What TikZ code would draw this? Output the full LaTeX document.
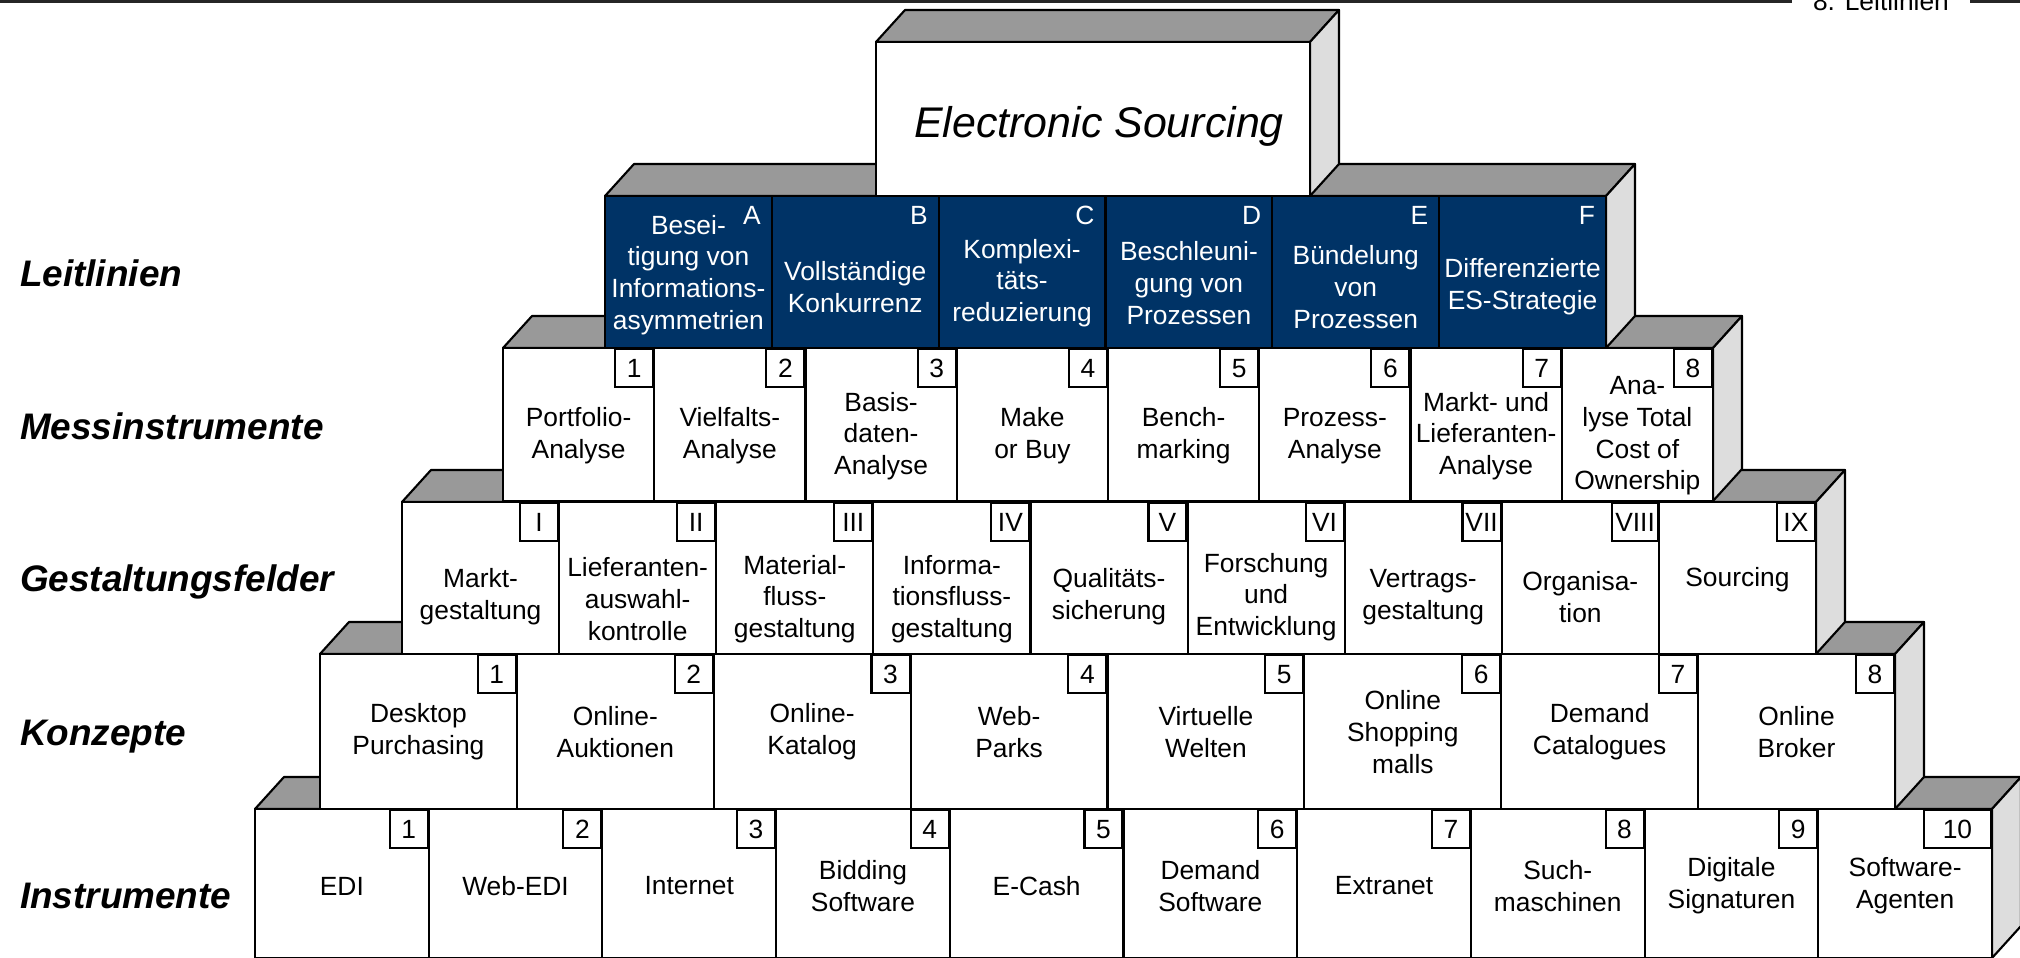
\documentclass[tikz,border=0pt]{standalone}
\usepackage{fontspec}
\setmainfont{Liberation Sans}
\definecolor{esblue}{RGB}{0,51,102}
\definecolor{topgray}{RGB}{153,153,153}
\definecolor{sidegray}{RGB}{221,221,221}

\newcommand{\stufe}[4]{%
  \draw[topface] (#1,#2) -- ++(29,-32) -- (#3+29,#2-32) -- (#3,#2) -- cycle;
  \draw[sideface] (#3,#2) -- ++(29,-32) -- (#3+29,#4-32) -- (#3,#4) -- cycle;
  \draw[frontface] (#1,#2) rectangle (#3,#4);}

\begin{document}
\begin{tikzpicture}
  [x=0.01cm,y=-0.01cm,line width=0.6pt,
   every node/.style={font=\fontsize{7.5}{9}\selectfont,align=center,inner sep=0pt},
   topface/.style={draw,fill=topgray,line join=round},
   sideface/.style={draw,fill=sidegray,line join=round},
   frontface/.style={draw,fill=white},
   numbox/.style={draw,fill=white,anchor=north east,minimum width=0.38cm,minimum height=0.38cm,inner xsep=0.03cm},
   level/.style={font=\fontsize{10.5}{12}\selectfont\bfseries\itshape,anchor=base west}]
  \useasboundingbox (0,0) rectangle (2020,958);
  \clip (0,0) rectangle (2020,958);

  \node[anchor=base west] (kapitel) at (1812,11) {8. Leitlinien};
  \draw[line width=0.8pt,black!85] (0,1.3) -- ([xshift=-0.2cm]kapitel.west |- 0,1.3)
    ([xshift=0.2cm]kapitel.east |- 0,1.3) -- (2020,1.3);

  \node[level] (l1) at (19,287) {Leitlinien};
  \node[level] (l2) at (19,440) {Messinstrumente};
  \node[level] (l3) at (19,592) {Gestaltungsfelder};
  \node[level] (l4) at (19,745) {Konzepte};
  \node[level] (l5) at (19,909) {Instrumente};

  \stufe{255}{809}{1992}{958}
  \foreach \txt/\num/\bw [count=\i] in {EDI/1/38, Web-EDI/2/38, Internet/3/38,
      Bidding\\Software/4/38, E-Cash/5/38, Demand\\Software/6/38, Extranet/7/38,
      Such-\\maschinen/8/38, Digitale\\Signaturen/9/38, Software-\\Agenten/10/67}
  {
    \pgfmathsetmacro\xl{255+173.7*(\i-1)}
    \pgfmathsetmacro\xr{\xl+173.7}
    \draw[frontface] (\xl,809) rectangle (\xr,958);
    \node (inst\i) at ({(\xl+\xr)/2},886) {\txt};
    \node[numbox,minimum width=\bw*0.01cm] (instnr\i) at (\xr,809) {\num};
  }

  \stufe{320}{654}{1895}{809}
  \foreach \txt/\num [count=\i] in {Desktop\\Purchasing/1, Online-\\Auktionen/2,
      Online-\\Katalog/3, Web-\\Parks/4, Virtuelle\\Welten/5, Online\\Shopping\\malls/6,
      Demand\\Catalogues/7, Online\\Broker/8}
  {
    \pgfmathsetmacro\xl{320+196.875*(\i-1)}
    \pgfmathsetmacro\xr{\xl+196.875}
    \draw[frontface] (\xl,654) rectangle (\xr,809);
    \node (konz\i) at ({(\xl+\xr)/2},732) {\txt};
    \node[numbox] (konznr\i) at (\xr,654) {\num};
  }

  \stufe{402}{502}{1816}{654}
  \foreach \txt/\num/\ty [count=\i] in {Markt-\\gestaltung/I/597,
      Lieferanten-\\auswahl-\\kontrolle/II/599, Material-\\fluss-\\gestaltung/III/599,
      Informa-\\tionsfluss-\\gestaltung/IV/599, Qualitäts-\\sicherung/V/597,
      Forschung\\und\\Entwicklung/VI/597, Vertrags-\\gestaltung/VII/597,
      Organisa-\\tion/VIII/597, Sourcing/IX/580}
  {
    \pgfmathsetmacro\xl{402+157.11*(\i-1)}
    \pgfmathsetmacro\xr{\xl+157.11}
    \draw[frontface] (\xl,502) rectangle (\xr,654);
    \node (gest\i) at ({(\xl+\xr)/2},\ty) {\txt};
    \node[numbox] (gestnr\i) at (\xr,502) {\num};
  }

  \stufe{503}{348}{1713}{501}
  \foreach \txt/\num [count=\i] in {Portfolio-\\Analyse/1, Vielfalts-\\Analyse/2,
      Basis-\\daten-\\Analyse/3, Make\\or Buy/4, Bench-\\marking/5, Prozess-\\Analyse/6,
      Markt- und\\Lieferanten-\\Analyse/7, Ana-\\lyse Total\\Cost of\\Ownership/8}
  {
    \pgfmathsetmacro\xl{503+151.25*(\i-1)}
    \pgfmathsetmacro\xr{\xl+151.25}
    \draw[frontface] (\xl,348) rectangle (\xr,501);
    \node (mess\i) at ({(\xl+\xr)/2},436) {\txt};
    \node[numbox] (messnr\i) at (\xr,348) {\num};
  }

  \stufe{605}{196}{1606}{348}
  \foreach \txt/\num/\ty [count=\i] in {Besei-\\tigung von\\Informations-\\asymmetrien/A/275,
      Vollständige\\Konkurrenz/B/287, Komplexi-\\täts-\\reduzierung/C/283,
      Beschleuni-\\gung von\\Prozessen/D/283, Bündelung\\von\\Prozessen/E/287,
      Differenzierte\\ES-Strategie/F/287}
  {
    \pgfmathsetmacro\xl{605+166.83*(\i-1)}
    \pgfmathsetmacro\xr{\xl+166.83}
    \draw[frontface,fill=esblue] (\xl,196) rectangle (\xr,348);
    \node[text=white] (leit\i) at ({(\xl+\xr)/2},\ty) {\txt};
    \node[text=white,anchor=base east] (leitnr\i) at (\xr-10,225) {\num};
  }

  \stufe{876}{42}{1310}{196}
  \node[font=\fontsize{12.2}{14}\selectfont\itshape,anchor=base] (es) at (1099,138) {Electronic Sourcing};
\end{tikzpicture}
\end{document}
